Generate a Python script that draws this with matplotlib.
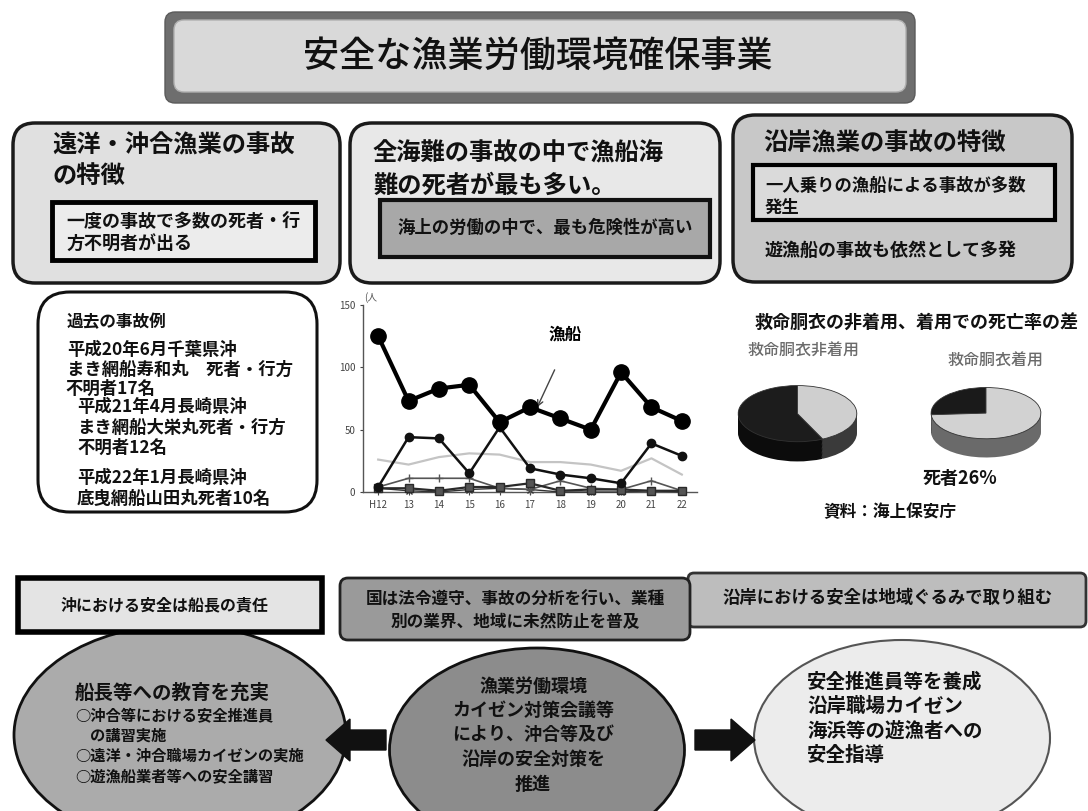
import numpy as np
import matplotlib
matplotlib.use('Agg')
import matplotlib.pyplot as plt
from matplotlib.patches import FancyBboxPatch, Ellipse, FancyArrow

plt.rcParams['font.family'] = ['Noto Sans CJK JP', 'DejaVu Sans']

# 漁船などの海難死者数（人）
years = ["H12", "13", "14", "15", "16", "17", "18", "19", "20", "21", "22"]
fishing = [125, 73, 83, 86, 56, 68, 59, 50, 96, 68, 57]
series_b = [4, 44, 43, 15, 52, 19, 14, 11, 7, 39, 29]
series_c = [26, 22, 28, 31, 30, 24, 24, 22, 17, 27, 14]
series_d = [4, 11, 11, 11, 3, 2, 9, 3, 2, 9, 1]
series_e = [3, 3, 1, 4, 4, 7, 1, 2, 2, 1, 1]
series_f = [3, 1, 0, 2, 3, 2, 0, 0, 0, 1, 0]

# 救命胴衣 非着用 / 着用 の死亡率（%）
nonwear = [57, 43]
wear = [26, 74]

W, H = 1088, 811
fig = plt.figure(figsize=(W / 100, H / 100), dpi=100)
bg = fig.add_axes([0, 0, 1, 1])
bg.set_xlim(0, W)
bg.set_ylim(H, 0)
bg.axis('off')


def rbox(x0, y0, x1, y1, fc, ec='#1a1a1a', lw=2.5, r=22, z=1):
    p = FancyBboxPatch((x0, y0), x1 - x0, y1 - y0,
                       boxstyle="round,pad=0,rounding_size=%d" % r,
                       fc=fc, ec=ec, lw=lw, zorder=z)
    bg.add_patch(p)


def txt(x, y, s, size=13, ha='left', va='center', weight='bold', color='#111111', **kw):
    bg.text(x, y, s, fontsize=size, ha=ha, va=va, fontweight=weight, color=color, **kw)


# タイトル
rbox(165, 12, 915, 103, '#6e6e6e', ec='#5a5a5a', lw=1, r=10)
rbox(174, 20, 906, 92, '#d9d9d9', ec='#b0b0b0', lw=1, r=10, z=2)
txt(538, 57, "安全な漁業労働環境確保事業", size=26, ha='center', weight='medium', zorder=3)

# 上段の3つの枠
rbox(13, 123, 340, 283, '#e0e0e0')
txt(52, 161, "遠洋・沖合漁業の事故\nの特徴", size=17.5, linespacing=1.35)
bg.add_patch(plt.Rectangle((52, 202), 263, 58, fc='#ececec', ec='black', lw=3.5, zorder=2))
txt(66, 233, "一度の事故で多数の死者・行\n方不明者が出る", size=13, zorder=3, linespacing=1.3)

rbox(350, 123, 720, 283, '#e8e8e8')
txt(373, 170, "全海難の事故の中で漁船海\n難の死者が最も多い。", size=17.5, linespacing=1.45)
bg.add_patch(plt.Rectangle((380, 200), 330, 57, fc='#a8a8a8', ec='#111111', lw=3, zorder=2))
txt(545, 228, "海上の労働の中で、最も危険性が高い", size=12.5, ha='center', zorder=3)

rbox(733, 115, 1072, 282, '#c8c8c8')
txt(763, 143, "沿岸漁業の事故の特徴", size=17.5)
bg.add_patch(plt.Rectangle((753, 165), 302, 55, fc='#dadada', ec='black', lw=3, zorder=2))
txt(765, 197, "一人乗りの漁船による事故が多数\n発生", size=12.5, zorder=3, linespacing=1.25)
txt(765, 250, "遊漁船の事故も依然として多発", size=13)

# 過去の事故例
rbox(38, 292, 317, 512, 'white', ec='#111111', lw=2.2, r=32)
cases = [("過去の事故例", 67, 322),
         ("平成20年6月千葉県沖", 67, 350),
         ("まき網船寿和丸　死者・行方", 67, 370),
         ("不明者17名", 65, 389),
         ("平成21年4月長崎県沖", 77, 407),
         ("まき網船大栄丸死者・行方", 77, 428),
         ("不明者12名", 77, 448),
         ("平成22年1月長崎県沖", 77, 478),
         ("底曳網船山田丸死者10名", 77, 499)]
for s, x, y in cases:
    txt(x, y, s, size=12.5 if s != "過去の事故例" else 12, zorder=3)

# 折れ線グラフ
x0, x1, y0, y1 = 363, 697, 492, 305
ax = fig.add_axes([x0 / W, 1 - y0 / H, (x1 - x0) / W, (y0 - y1) / H])
ax.set_facecolor('none')
xs = np.arange(len(years))
ax.plot(xs, series_c, color='#c4c4c4', lw=1.6, zorder=2)
ax.plot(xs, series_f, color='#333333', lw=1.0, marker='x', ms=5, zorder=3, clip_on=False)
ax.plot(xs, series_d, color='#555555', lw=1.2, marker='+', ms=6, zorder=3, clip_on=False)
ax.plot(xs, series_e, color='#2a2a2a', lw=1.6, marker='s', ms=6, mfc='#555555', zorder=4, clip_on=False)
ax.plot(xs, series_b, color='#111111', lw=1.8, marker='o', ms=6, zorder=5, clip_on=False)
ax.plot(xs, fishing, color='black', lw=3, marker='o', ms=11, zorder=6, clip_on=False)
ax.set_xlim(-0.5, 10.5)
ax.set_ylim(0, 150)
ax.set_yticks([0, 50, 100, 150])
ax.set_xticks(xs)
ax.set_xticklabels(years)
ax.tick_params(labelsize=7, colors='#444444', length=2, width=0.8)
for side in ['top', 'right']:
    ax.spines[side].set_visible(False)
for side in ['left', 'bottom']:
    ax.spines[side].set_color('#555555')
    ax.spines[side].set_linewidth(1)
ax.text(-0.45, 152, "(人", fontsize=7, color='#555555', va='bottom')
ax.annotate('', xy=(5.2, 66), xytext=(5.85, 100),
            arrowprops=dict(arrowstyle='->', color='#444444', lw=1))
ax.text(6.15, 126, "漁船", fontsize=12, fontweight='bold', ha='center', va='center')

# 救命胴衣の円グラフ
txt(917, 323, "救命胴衣の非着用、着用での死亡率の差", size=13, ha='center')
txt(748, 351, "救命胴衣非着用", size=11.5, color='#6a6a6a', weight='medium')
txt(948, 361, "救命胴衣着用", size=11.5, color='#6a6a6a', weight='medium')


def pie3d(px0, py0, pw, ph, depth, sizes, top, side):
    pax = fig.add_axes([px0 / W, 1 - (py0 + ph + depth) / H, pw / W, (ph + depth) / H])
    d = depth / (ph / 2)
    for k in np.linspace(d, 0, 16)[:-1]:
        pax.pie(sizes, colors=side, startangle=90, center=(0, -k),
                wedgeprops=dict(lw=0))
    pax.pie(sizes, colors=top, startangle=90, wedgeprops=dict(lw=0.6, ec='#333333'))
    pax.set_aspect('auto')
    pax.set_xlim(-1.02, 1.02)
    pax.set_ylim(-1.02 - d, 1.02)
    pax.axis('off')


pie3d(737, 385, 121, 57, 20, nonwear, ['#1c1c1c', '#cfcfcf'], ['#0c0c0c', '#3a3a3a'])
pie3d(930, 387, 112, 52, 19, wear, ['#1a1a1a', '#d2d2d2'], ['#0c0c0c', '#6a6a6a'])
txt(960, 478, "死者26%", size=13, ha='center')
txt(890, 512, "資料：海上保安庁", size=12, ha='center')

# 下段の帯
bg.add_patch(plt.Rectangle((18, 578), 304, 54, fc='#e4e4e4', ec='black', lw=4, zorder=3))
txt(165, 605, "沖における安全は船長の責任", size=11.5, ha='center', zorder=4)
rbox(340, 578, 690, 640, '#9a9a9a', ec='#222222', lw=2, r=8, z=3)
txt(515, 611, "国は法令遵守、事故の分析を行い、業種\n別の業界、地域に未然防止を普及", size=12, ha='center', zorder=4, linespacing=1.3)
rbox(688, 573, 1086, 627, '#bdbdbd', ec='#333333', lw=2, r=6, z=2)
txt(888, 598, "沿岸における安全は地域ぐるみで取り組む", size=12.5, ha='center', zorder=4)

# 楕円と矢印
bg.add_patch(Ellipse((180, 735), 332, 220, fc='#ababab', ec='#111111', lw=2, zorder=2))
bg.add_patch(Ellipse((537, 750), 295, 204, fc='#8c8c8c', ec='#111111', lw=2, zorder=2))
bg.add_patch(Ellipse((902, 738), 296, 196, fc='#ececec', ec='#555555', lw=1.5, zorder=2))
bg.add_patch(FancyArrow(386, 740, -36, 0, width=20, head_width=42, head_length=24,
                        fc='#111111', ec='#111111', zorder=3))
bg.add_patch(FancyArrow(695, 740, 36, 0, width=20, head_width=42, head_length=24,
                        fc='#111111', ec='#111111', zorder=3))

txt(75, 693, "船長等への教育を充実", size=14, zorder=4)
left_items = [("○沖合等における安全推進員", 75, 716),
              ("の講習実施", 90, 736),
              ("○遠洋・沖合職場カイゼンの実施", 75, 756),
              ("○遊漁船業者等への安全講習", 75, 777)]
for s, x, y in left_items:
    txt(x, y, s, size=11, zorder=4)

mid_lines = ["漁業労働環境", "カイゼン対策会議等", "により、沖合等及び", "沿岸の安全対策を", "推進"]
for i, s in enumerate(mid_lines):
    txt(533, 686 + i * 24.5, s, size=13, ha='center', zorder=4)

right_lines = ["安全推進員等を養成", "沿岸職場カイゼン", "海浜等の遊漁者への", "安全指導"]
for i, s in enumerate(right_lines):
    txt(807, 682 + i * 24.5, s, size=14, zorder=4)

fig.savefig('out.png', dpi=100)
